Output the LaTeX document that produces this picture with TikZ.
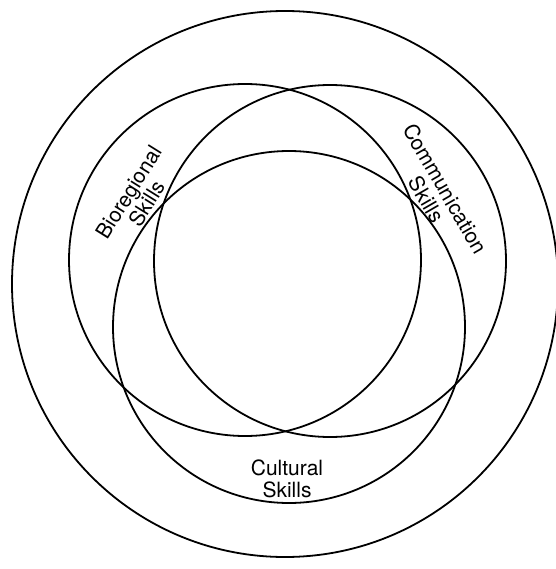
\documentclass[tikz,border=0pt]{standalone}
\usepackage{fontspec}
\setmainfont{TeX Gyre Heros}
\begin{document}
\begin{tikzpicture}[x=1pt,y=-1pt,
  ring/.style={draw=black,line width=1.8pt},
  lbl/.style={align=center,inner sep=0pt,font=\fontsize{21}{21.5}\selectfont}]
\useasboundingbox[fill=white] (0,0) rectangle (555,569);
\coordinate (co) at (285,284);
\coordinate (cl) at (245,260);
\coordinate (cr) at (330,261);
\coordinate (cb) at (289,327);
\draw[ring] (co) circle[radius=273pt];
\draw[ring] (cl) circle[radius=176pt];
\draw[ring] (cr) circle[radius=176pt];
\draw[ring] (cb) circle[radius=176pt];
\node[lbl,rotate=58] (bio) at (138,198) {Bioregional\\Skills};
\node[lbl,rotate=-60] (com) at (436,194) {Communication\\Skills};
\node[lbl] (cul) at (287,479) {Cultural\\Skills};
\end{tikzpicture}
\end{document}
